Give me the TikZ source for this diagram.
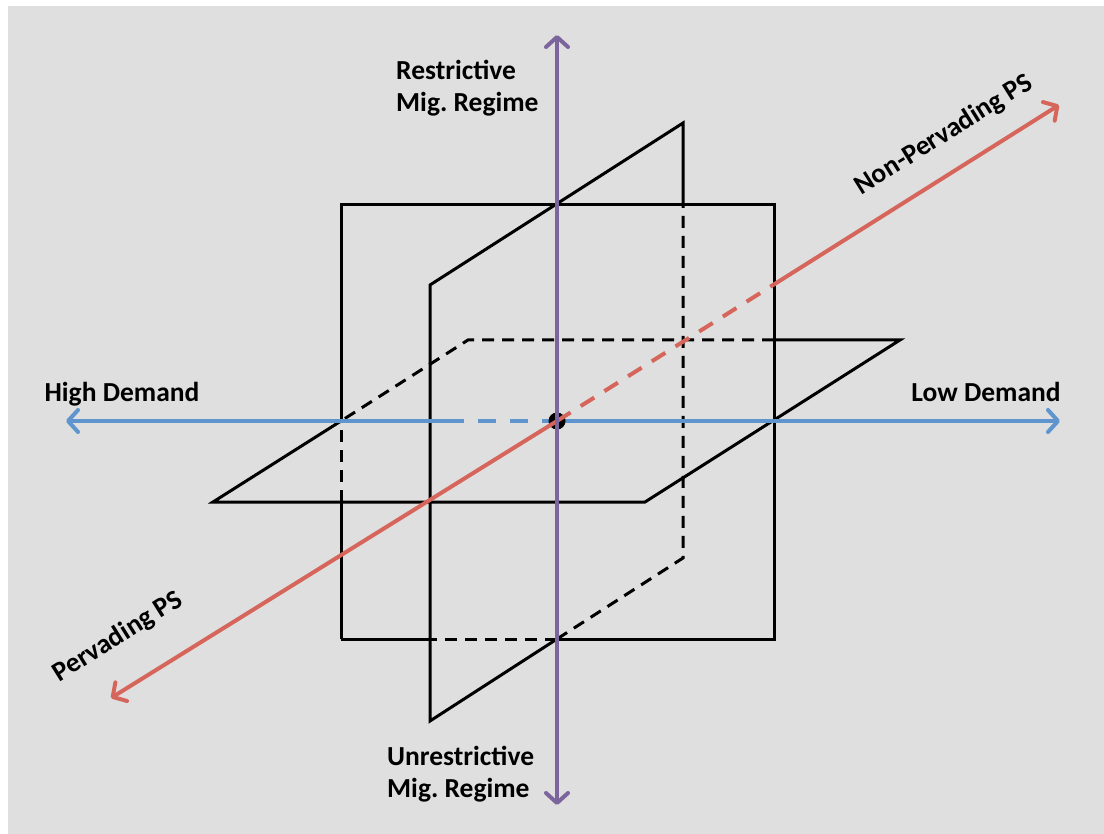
\documentclass[tikz,border=0pt]{standalone}
\usepackage{fontspec}
\setmainfont{Carlito}
\frenchspacing
\usetikzlibrary{arrows.meta,calc}
\definecolor{bg}{RGB}{223,223,223}
\definecolor{axblue}{RGB}{94,149,206}
\definecolor{axred}{RGB}{214,102,92}
\definecolor{axpurple}{RGB}{124,100,156}
\begin{document}
\begin{tikzpicture}[x=1pt,y=-1pt,
  edge/.style={black,line width=3pt},
  hidden/.style={edge,dash pattern=on 12pt off 8pt},
  axis/.style={line width=4pt},
  barb/.tip={Straight Barb[length=10pt,width=22pt,line cap=round,line join=round]},
  lbl/.style={font=\fontsize{27.5}{32}\selectfont\bfseries,inner sep=0pt,align=left}]
\useasboundingbox (0,0) rectangle (1104,834);
\fill[bg] (8,6) rectangle (1104,834);
% front square
\coordinate (ftl) at (341,205);
\coordinate (ftr) at (774,205);
\coordinate (fbr) at (774,639);
\coordinate (fbl) at (341,639);
\coordinate (fbm1) at (430,639);
\coordinate (fbm2) at (557,639);
\coordinate (flm1) at (341,421);
\coordinate (flm2) at (341,502);
% side plane
\coordinate (stb) at (683,123);
\coordinate (stf) at (430,285);
\coordinate (sbf) at (430,721);
\coordinate (sbb) at (683,558);
\coordinate (sbm) at (683,205);
% horizontal plane
\coordinate (hfl) at (213,502);
\coordinate (hfr) at (645,502);
\coordinate (hbr) at (900,340);
\coordinate (hbl) at (468,340);
\coordinate (hbm) at (774,340);
% axes
\coordinate (c) at (557,421);
\coordinate (hl) at (66,421);
\coordinate (hr) at (1060,421);
\coordinate (bsplit) at (446,421);
\coordinate (sw) at (111,698);
\coordinate (ne) at (1059,105);
\coordinate (rsplit) at ($(c)!0.432!(ne)$);
\coordinate (pt) at (557,35);
\coordinate (pb) at (557,805);
% front square edges
\draw[edge] (fbl) -- (flm2);
\draw[hidden] (flm2) -- (flm1);
\draw[edge] (flm1) -- (ftl) -- (ftr) -- (fbr) -- (fbm2);
\draw[hidden] (fbm2) -- (fbm1);
\draw[edge] (fbm1) -- (fbl);
% side plane edges
\draw[edge] (sbm) -- (stb) -- (stf) -- (sbf) -- (fbm2);
\draw[hidden] (fbm2) -- (sbb) -- (sbm);
% horizontal plane edges
\draw[edge] (flm1) -- (hfl) -- (hfr) -- (hbr) -- (hbm);
\draw[hidden] (hbm) -- (hbl) -- (flm1);
% blue axis
\draw[axis,axblue,-barb] (bsplit) -- (hl);
\draw[axis,axblue,dash pattern=on 18pt off 14pt] (bsplit) -- (c);
\draw[axis,axblue,-barb] (c) -- (hr);
\node[circle,fill=black,inner sep=0pt,minimum size=17pt] (dot) at (c) {};
% red axis
\draw[axis,axred,-barb] (c) -- (sw);
\draw[axis,axred,dash pattern=on 16pt off 12pt] (c) -- (rsplit);
\draw[axis,axred,-barb] (rsplit) -- (ne);
% purple axis
\draw[axis,axpurple,barb-barb] (pt) -- (pb);
% labels
\node[lbl,anchor=base] (high) at (122,402) {High Demand};
\node[lbl,anchor=base] (low) at (986,402) {Low Demand};
\node[lbl,anchor=base west] (restr) at (396,112) {Restrictive\\Mig. Regime};
\node[lbl,anchor=base west] (unrestr) at (387,797) {Unrestrictive\\Mig. Regime};
\node[lbl,rotate=32] (nonperv) at (944,135) {Non-Pervading PS};
\node[lbl,rotate=32] (perv) at (118,637) {Pervading PS};
\end{tikzpicture}
\end{document}
